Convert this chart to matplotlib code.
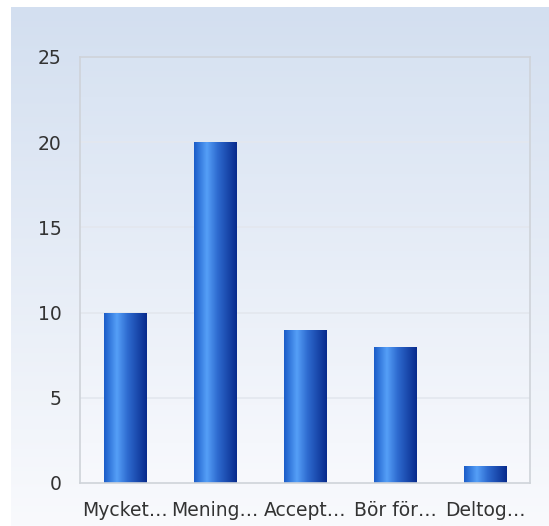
import numpy as np
import matplotlib
matplotlib.use("Agg")
import matplotlib.pyplot as plt
from matplotlib.colors import LinearSegmentedColormap

# data
categories = ["Mycket…", "Mening…", "Accept…", "Bör för…", "Deltog…"]
values = [10, 20, 9, 8, 1]
y_ticks = [0, 5, 10, 15, 20, 25]

W, H = 549, 526
fig = plt.figure(figsize=(W / 100, H / 100), dpi=100)
fig.patch.set_facecolor("white")

# outer gradient panel
bg = fig.add_axes([11 / W, 0, (W - 11) / W, (H - 7) / H], zorder=0)
bg_cmap = LinearSegmentedColormap.from_list("bg", ["#d3dff0", "#f9fafd"])
bg.imshow(np.linspace(0, 1, 256).reshape(-1, 1), aspect="auto", cmap=bg_cmap,
          extent=[0, 1, 0, 1], origin="upper")
bg.set_axis_off()

ax = fig.add_axes([80 / W, (H - 483) / H, 450 / W, 426 / H], zorder=1)
ax.set_xlim(-0.5, len(categories) - 0.5)
ax.set_ylim(0, 25)

# inner gradient
ax_cmap = LinearSegmentedColormap.from_list("axbg", ["#d8e3f2", "#f8f9fd"])
ax.imshow(np.linspace(0, 1, 256).reshape(-1, 1), aspect="auto", cmap=ax_cmap,
          extent=[-0.5, len(categories) - 0.5, 0, 25], origin="upper", zorder=0)

for t in y_ticks[1:-1]:
    ax.axhline(t, color="#e3e7ee", lw=1.2, zorder=1)

bar_cmap = LinearSegmentedColormap.from_list(
    "bar", [(0, "#1b5cc8"), (0.3, "#559ff7"), (0.55, "#2e6bd0"), (1, "#082a8c")])
grad = np.linspace(0, 1, 256).reshape(1, -1)

bars = ax.bar(range(len(categories)), values, width=0.47, color="none",
              edgecolor="none", zorder=2)
for b in bars:
    x0, w, h = b.get_x(), b.get_width(), b.get_height()
    im = ax.imshow(grad, aspect="auto", cmap=bar_cmap,
                   extent=[x0, x0 + w, 0, h], zorder=2)
    im.set_clip_path(b)

ax.set_xlim(-0.5, len(categories) - 0.5)
ax.set_ylim(0, 25)
ax.set_xticks(range(len(categories)))
ax.set_xticklabels(categories)
ax.set_yticks(y_ticks)
ax.tick_params(length=0, labelsize=13.5, labelcolor="#333333")
ax.tick_params(axis="x", pad=13)
ax.tick_params(axis="y", pad=13.5)
for s in ax.spines.values():
    s.set_color("#cfd3d9")
    s.set_linewidth(1.2)

plt.savefig("out.png", dpi=100)
